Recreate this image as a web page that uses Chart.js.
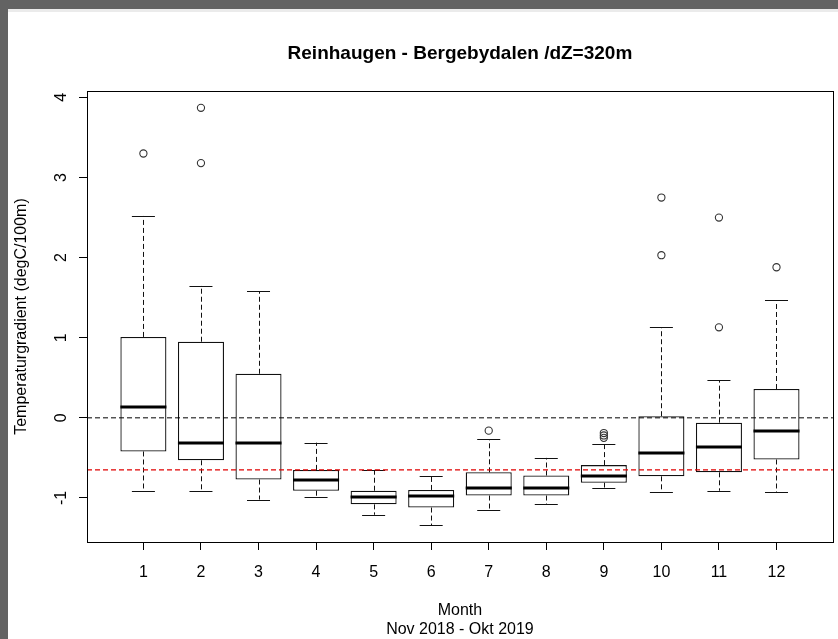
<!DOCTYPE html>
<html lang="no">
<head>
<meta charset="UTF-8">
<title>Reinhaugen - Bergebydalen</title>
<script src="https://cdn.jsdelivr.net/npm/chart.js"></script>
<style>
  html, body { margin: 0; padding: 0; background: #fff; }
  #wrap { width: 838px; height: 639px; }
</style>
</head>
<body>
<div id="wrap"><canvas id="boxChart" width="838" height="639"></canvas></div>
<script>
// month index (Nov 2018 = 1 ... Okt 2019 = 12)
const months = [1, 2, 3, 4, 5, 6, 7, 8, 9, 10, 11, 12];
// box statistics per month, degC/100m
const whiskLow = [-0.91, -0.91, -1.02, -0.99, -1.21, -1.34, -1.15, -1.08, -0.87, -0.93, -0.91, -0.93];
const q1       = [-0.42, -0.53, -0.77, -0.91, -1.08, -1.12, -0.97, -0.97, -0.81, -0.73, -0.68, -0.52];
const median   = [ 0.13, -0.31, -0.31, -0.78, -0.99, -0.98, -0.87, -0.87, -0.72, -0.44, -0.37, -0.16];
const q3       = [ 1.01,  0.95,  0.55, -0.65, -0.91, -0.90, -0.68, -0.72, -0.59,  0.02, -0.06,  0.36];
const whiskHigh= [ 2.52,  1.65,  1.58, -0.31, -0.65, -0.72, -0.27, -0.50, -0.33,  1.13,  0.47,  1.47];
// outliers
const outMonth = [1, 2, 2, 7, 9, 9, 9, 10, 10, 11, 11, 12];
const outValue = [3.30, 3.87, 3.18, -0.16, -0.19, -0.22, -0.25, 2.75, 2.03, 2.50, 1.13, 1.88];
// reference lines
const zeroLine = 0;
const lapseRate = -0.65;
const yTicks = [-1, 0, 1, 2, 3, 4];

const FONT = '"Liberation Sans", Arial, sans-serif';
const xMin = 0.02, xMax = 12.98;

function px(v) { return Math.round(v) + 0.5; }

// frame of the screenshot (grey bands top/left)
const framePlugin = {
  id: 'frame',
  beforeDraw(chart) {
    const ctx = chart.ctx;
    ctx.save();
    ctx.fillStyle = '#fff';
    ctx.fillRect(0, 0, chart.width, chart.height);
    ctx.fillStyle = '#636363';
    ctx.fillRect(0, 0, chart.width, 9);
    ctx.fillRect(0, 0, 8, chart.height);
    ctx.fillStyle = '#ebebeb';
    ctx.fillRect(8, 9, chart.width - 8, 3);
    ctx.restore();
  }
};

// whiskers, staples and medians on top of the boxes
const boxPlugin = {
  id: 'boxParts',
  afterDatasetDraw(chart, args) {
    if (args.index !== 0) return;
    const ctx = chart.ctx;
    const y = chart.scales.y;
    const meta = chart.getDatasetMeta(0);
    ctx.save();
    meta.data.forEach((bar, i) => {
      const cx = px(bar.x);
      const half = bar.width / 2;
      const yHi = y.getPixelForValue(whiskHigh[i]);
      const yLo = y.getPixelForValue(whiskLow[i]);
      ctx.strokeStyle = '#111';
      ctx.lineWidth = 1;
      ctx.setLineDash([5, 3]);
      ctx.beginPath();
      ctx.moveTo(cx, y.getPixelForValue(q3[i]));
      ctx.lineTo(cx, yHi);
      ctx.moveTo(cx, y.getPixelForValue(q1[i]));
      ctx.lineTo(cx, yLo);
      ctx.stroke();
      ctx.setLineDash([]);
      ctx.beginPath();
      ctx.moveTo(bar.x - half / 2, px(yHi));
      ctx.lineTo(bar.x + half / 2, px(yHi));
      ctx.moveTo(bar.x - half / 2, px(yLo));
      ctx.lineTo(bar.x + half / 2, px(yLo));
      ctx.stroke();
      ctx.lineWidth = 3;
      ctx.strokeStyle = '#000';
      ctx.beginPath();
      const ym = Math.round(y.getPixelForValue(median[i]));
      ctx.moveTo(bar.x - half, ym);
      ctx.lineTo(bar.x + half, ym);
      ctx.stroke();
    });
    ctx.restore();
  }
};

// plot box, titles and rotated y tick labels (R style)
const textPlugin = {
  id: 'rText',
  afterDraw(chart) {
    const ctx = chart.ctx;
    const a = chart.chartArea;
    const y = chart.scales.y;
    const cx = (a.left + a.right) / 2;
    ctx.save();
    ctx.strokeStyle = '#000';
    ctx.lineWidth = 1;
    ctx.strokeRect(px(a.left), px(a.top), Math.round(a.right - a.left), Math.round(a.bottom - a.top));

    ctx.fillStyle = '#000';
    ctx.textAlign = 'center';
    ctx.font = 'bold 19px ' + FONT;
    ctx.textBaseline = 'alphabetic';
    ctx.fillText('Reinhaugen - Bergebydalen /dZ=320m', cx, 59);

    ctx.font = '16px ' + FONT;
    ctx.textBaseline = 'middle';
    ctx.fillText('Month', cx, 611);
    ctx.fillText('Nov 2018 - Okt 2019', cx, 630);

    y.ticks.forEach(t => {
      ctx.save();
      ctx.translate(62, y.getPixelForValue(t.value));
      ctx.rotate(-Math.PI / 2);
      ctx.fillText(String(t.value), 0, 0);
      ctx.restore();
    });

    ctx.save();
    ctx.translate(22, (a.top + a.bottom) / 2);
    ctx.rotate(-Math.PI / 2);
    ctx.fillText('Temperaturgradient (degC/100m)', 0, 0);
    ctx.restore();
    ctx.restore();
  }
};

const ctx = document.getElementById('boxChart').getContext('2d');
new Chart(ctx, {
  type: 'bar',
  data: {
    datasets: [
      {
        type: 'bar',
        label: 'box',
        data: months.map((m, i) => ({ x: m, y: [q1[i], q3[i]] })),
        backgroundColor: '#fff',
        borderColor: '#111',
        borderWidth: 1.3,
        borderSkipped: false,
        barPercentage: 0.8,
        categoryPercentage: 1,
        order: 3
      },
      {
        type: 'line',
        label: 'outliers',
        data: outMonth.map((m, i) => ({ x: m, y: outValue[i] })),
        showLine: false,
        pointStyle: 'circle',
        pointRadius: 3.6,
        pointBorderWidth: 1.1,
        pointBorderColor: '#333',
        pointBackgroundColor: 'rgba(255,255,255,0)',
        order: 2
      },
      {
        type: 'line',
        label: 'zero',
        data: [{ x: xMin, y: zeroLine }, { x: xMax, y: zeroLine }],
        borderColor: '#000',
        borderWidth: 1,
        borderDash: [5, 3],
        pointRadius: 0,
        order: 1
      },
      {
        type: 'line',
        label: 'lapse',
        data: [{ x: xMin, y: lapseRate }, { x: xMax, y: lapseRate }],
        borderColor: '#e00000',
        borderWidth: 1.2,
        borderDash: [5, 3],
        pointRadius: 0,
        order: 0
      }
    ]
  },
  options: {
    responsive: false,
    animation: false,
    layout: { padding: { left: 27, top: 91, right: 2, bottom: 37 } },
    plugins: { legend: { display: false }, tooltip: { enabled: false }, title: { display: false } },
    scales: {
      x: {
        type: 'linear',
        min: xMin,
        max: xMax,
        offset: false,
        afterBuildTicks: s => { s.ticks = months.map(v => ({ value: v })); },
        afterFit: s => { s.height = 60; },
        grid: { display: true, drawOnChartArea: false, drawTicks: true, tickLength: 8, color: '#000', offset: false },
        border: { display: false },
        ticks: { color: '#000', font: { family: FONT, size: 16 }, padding: 13, autoSkip: false, maxRotation: 0 }
      },
      y: {
        min: -1.55,
        max: 4.08,
        afterBuildTicks: s => { s.ticks = yTicks.map(v => ({ value: v })); },
        afterFit: s => { s.width = 60; },
        grid: { display: true, drawOnChartArea: false, drawTicks: true, tickLength: 8, color: '#000' },
        border: { display: false },
        ticks: { display: false }
      }
    }
  },
  plugins: [framePlugin, boxPlugin, textPlugin]
});
</script>
</body>
</html>
